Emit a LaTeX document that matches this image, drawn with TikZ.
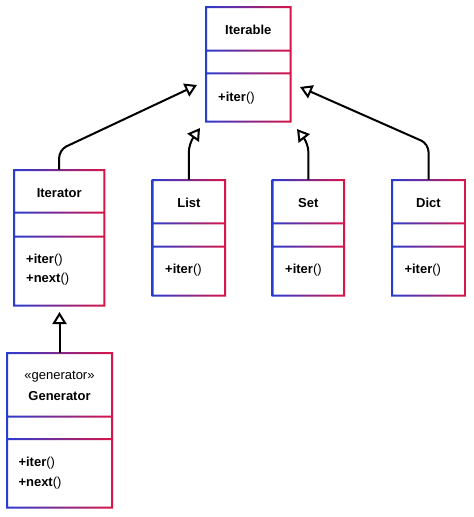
\documentclass[tikz,border=0pt]{standalone}
\usepackage{fontspec}
\setmainfont{Liberation Sans}
\usetikzlibrary{arrows.meta,fit}
\definecolor{cblue}{RGB}{40,60,210}
\definecolor{cred}{RGB}{220,20,70}
\newcommand\umlclassbox[7]{%
  \shade[left color=cblue, right color=cred, even odd rule]
    (#2-1,#3-1) rectangle (#4+1,#7+1)
    (#2+1,#3+1) rectangle (#4-1,#5-1)
    (#2+1,#5+1) rectangle (#4-1,#6-1)
    (#2+1,#6+1) rectangle (#4-1,#7-1);
  \coordinate (#1-nw) at (#2,#3);
  \coordinate (#1-se) at (#4,#7);
  \node[fit=(#1-nw)(#1-se), inner sep=0pt] (#1) {};
}
\tikzset{
  title/.style={inner sep=0pt, font=\fontsize{13}{15}\selectfont\bfseries},
  stereo/.style={inner sep=0pt, font=\fontsize{13}{15}\selectfont},
  meth/.style={inner sep=0pt, anchor=west, font=\fontsize{13}{15}\selectfont},
  inh/.style={draw=black, line width=2pt, rounded corners=8pt,
    -{Triangle[open,length=12pt,width=14pt]}},
}
\begin{document}
\begin{tikzpicture}[x=1pt,y=-1pt]
\useasboundingbox[fill=white] (0,0) rectangle (474,517);

\umlclassbox{Iterable}{206}{7}{290.7}{50.7}{73.3}{121.7}
\node[title] (iterableT) at (248.3,30) {Iterable};
\node[meth] (iterableM) at (218,98) {\textbf{+iter}()};

\umlclassbox{Iterator}{14}{170}{104.3}{212.7}{236.7}{305.7}
\node[title] (iteratorT) at (59.2,193) {Iterator};
\node[meth] (iteratorM1) at (26,260) {\textbf{+iter}()};
\node[meth] (iteratorM2) at (26,279) {\textbf{+next}()};

\umlclassbox{List}{152.7}{180}{225}{223.3}{246.7}{295.5}
\node[title] (listT) at (188.9,203) {List};
\node[meth] (listM) at (165,270) {\textbf{+iter}()};

\umlclassbox{Set}{272.7}{180}{344}{223.3}{246.7}{295.5}
\node[title] (setT) at (308.3,203) {Set};
\node[meth] (setM) at (285,270) {\textbf{+iter}()};

\umlclassbox{Dict}{392}{180}{465}{223.3}{246.7}{295.5}
\node[title] (dictT) at (428.5,203) {Dict};
\node[meth] (dictM) at (404.3,270) {\textbf{+iter}()};

\umlclassbox{Generator}{7}{353}{112}{416.7}{439}{507.7}
\node[stereo] (generatorS) at (59.5,377) {«generator»};
\node[title] (generatorT) at (59.5,396) {Generator};
\node[meth] (generatorM1) at (18.3,463) {\textbf{+iter}()};
\node[meth] (generatorM2) at (18.3,483) {\textbf{+next}()};

\coordinate (tipIterator) at (197,85);
\coordinate (tipList) at (200,128);
\coordinate (tipSet) at (297,129);
\coordinate (tipDict) at (300,87);
\coordinate (tipGenerator) at (59.5,312);

\draw[inh] (Iterator.north) -- ++(0,-20) -- (tipIterator);
\draw[inh] (List.north) -- ++(0,-36) -- (tipList);
\draw[inh] (Set.north) -- ++(0,-36) -- (tipSet);
\draw[inh] (Dict.north) -- ++(0,-36) -- (tipDict);
\draw[inh] (Generator.north) -- (tipGenerator);
\end{tikzpicture}
\end{document}
